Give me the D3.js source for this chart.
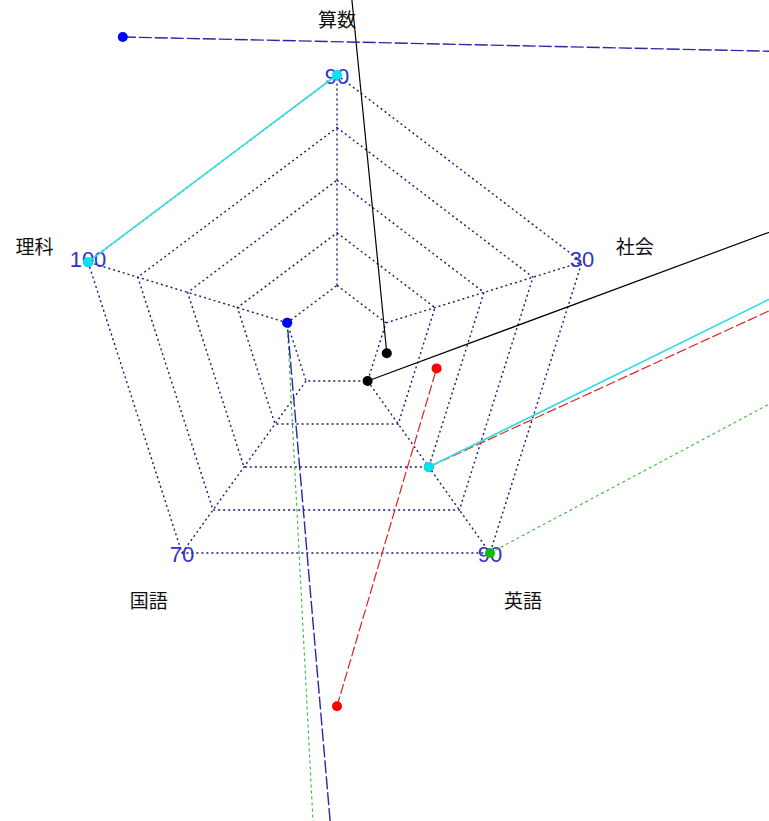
<!DOCTYPE html>
<html><head><meta charset="utf-8">
<script src="https://cdn.jsdelivr.net/npm/d3@7"></script>
<style>html,body{margin:0;padding:0;background:#fff;overflow:hidden}</style>
</head><body>
<svg id="chart" width="769" height="821"></svg>
<script>
// ---- data ----
const categories = ["算数", "社会", "英語", "国語", "理科"];
const axisMin = [50, 10, 50, 30, 60];
const axisMax = [90, 30, 90, 70, 100];
const tickLabels = ["90", "30", "90", "70", "100"];
const seriesBlack = [133, 97, 50, NaN, 40];
const seriesBlue  = [-67, 96, -30, NaN, 60];
const seriesCyan  = [90, 102.5, 70, NaN, 100];
const seriesRed   = [-30, 122.5, 70, NaN, 30];
const seriesGreen = [-140, 140.75, 90, NaN, 60];
// drawing order of the points along each line (算数 → 理科 → 国語 → 英語 → 社会)
const pathOrder = [0, 4, 3, 2, 1];

// ---- layout ----
const W = 769, H = 821, cx = 337, cy = 338;
const dirX = [0, 245, 153, -155, -249];
const dirY = [-263, -76, 215, 215, -76];
const levels = [0.2, 0.4, 0.6, 0.8, 1.0];

const svg = d3.select("#chart");
svg.append("rect").attr("width", W).attr("height", H).attr("fill", "#fff");

const rScales = categories.map((c, i) =>
  d3.scaleLinear().domain([axisMin[i], axisMax[i]]).range([0.2, 1]));
const px = (i, r) => cx + r * dirX[i];
const py = (i, r) => cy + r * dirY[i];

const gridColor = "#1a1a6e";
const grid = svg.append("g");
levels.forEach(l => {
  grid.append("path")
    .attr("d", d3.line()(categories.map((c, i) => [px(i, l), py(i, l)])) + "Z")
    .attr("fill", "none").attr("stroke", gridColor).attr("stroke-width", 1.4)
    .attr("stroke-dasharray", "2,3");
});
categories.forEach((c, i) => {
  grid.append("line")
    .attr("x1", px(i, levels[0])).attr("y1", py(i, levels[0]))
    .attr("x2", px(i, 1)).attr("y2", py(i, 1))
    .attr("stroke", gridColor).attr("stroke-width", 1.4)
    .attr("stroke-dasharray", "2,3");
});

// tick labels (axis max)
svg.append("g").selectAll("text").data(tickLabels).join("text")
  .attr("x", (d, i) => px(i, 1))
  .attr("y", (d, i) => py(i, 1) + (i === 1 || i === 4 ? -3 : 1))
  .attr("text-anchor", "middle").attr("dominant-baseline", "central")
  .attr("font-family", "Liberation Sans, Arial, sans-serif").attr("font-size", 22)
  .attr("fill", "#3030cc").text(d => d);

// category labels
svg.append("g").selectAll("text").data(categories).join("text")
  .attr("x", (d, i) => px(i, 1.215))
  .attr("y", (d, i) => py(i, 1.215))
  .attr("text-anchor", "middle").attr("dominant-baseline", "central")
  .attr("font-family", "Noto Sans CJK JP, sans-serif").attr("font-size", 19)
  .attr("fill", "#111").text(d => d);

// series
const series = [
  {values: seriesGreen, line: "#33bb33", dot: "#11bb11", dash: "3,3", w: 1.1},
  {values: seriesRed,   line: "#dd2222", dot: "#ff0000", dash: "10,3", w: 1.2},
  {values: seriesBlack, line: "#000000", dot: "#000000", dash: null, w: 1.2},
  {values: seriesBlue,  line: "#2828a8", dot: "#0000ff", dash: "13,3", w: 1.4},
  {values: seriesCyan,  line: "#33dde0", dot: "#00e5f0", dash: null, w: 1.6}
];
const lineGen = d3.line().defined(d => d && !isNaN(d[0])).x(d => d[0]).y(d => d[1]);

series.forEach(s => {
  const pts = pathOrder.map(i => {
    const v = s.values[i];
    if (isNaN(v)) return [NaN, NaN];
    const r = rScales[i](v);
    return [px(i, r), py(i, r)];
  });
  svg.append("path").attr("d", lineGen(pts))
    .attr("fill", "none").attr("stroke", s.line).attr("stroke-width", s.w)
    .attr("stroke-dasharray", s.dash);
  svg.append("g").selectAll("circle").data(pts.filter(p => !isNaN(p[0]))).join("circle")
    .attr("cx", d => d[0]).attr("cy", d => d[1]).attr("r", 5).attr("fill", s.dot);
});
</script>
</body></html>
